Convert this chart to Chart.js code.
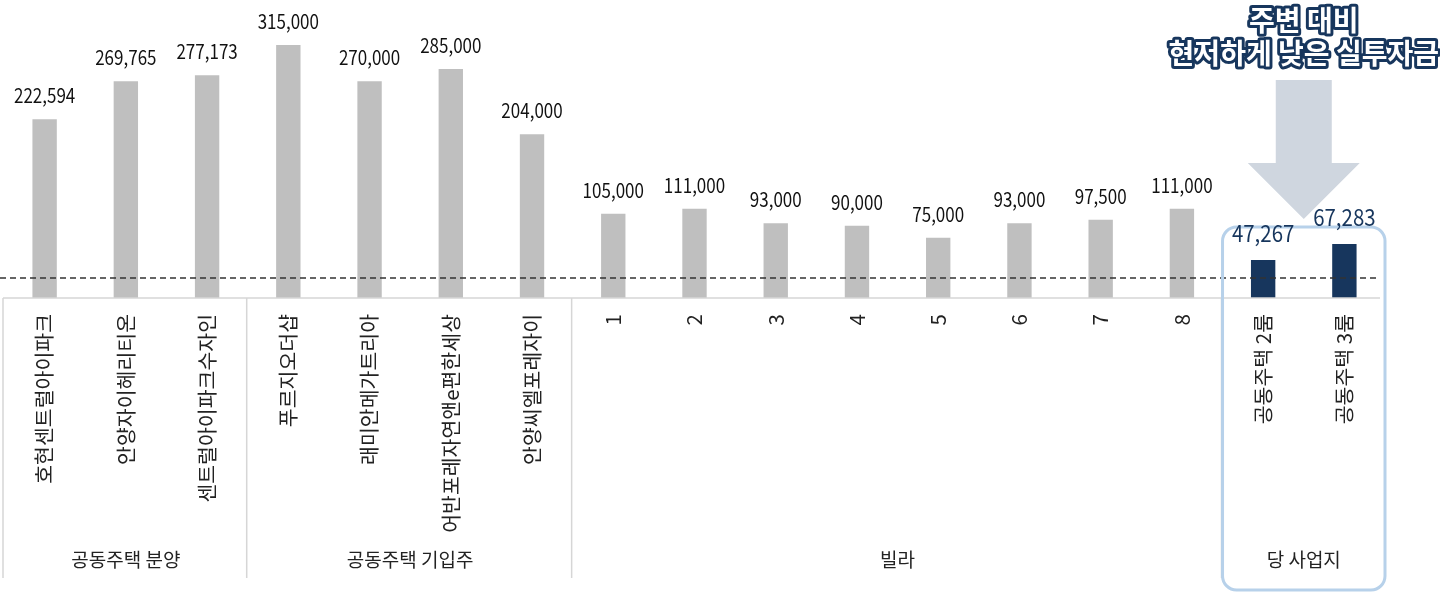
<!DOCTYPE html>
<html>
<head>
<meta charset="utf-8">
<script src="https://cdn.jsdelivr.net/npm/chart.js@4"></script>
<style>
  body { margin: 0; background: #fff; }
</style>
</head>
<body>
<canvas id="bar_chart" width="1440" height="592"></canvas>
<script>
// 단지명 / 실투자금 (천원)
var categories = ['호현센트럴아이파크', '안양자이헤리티온', '센트럴아이파크수자인',
    '푸르지오더샵', '래미안메가트리아', '어반포레자연앤e편한세상', '안양씨엘포레자이',
    '1', '2', '3', '4', '5', '6', '7', '8',
    '공동주택 2룸', '공동주택 3룸'];
var values = [222594, 269765, 277173, 315000, 270000, 285000, 204000,
    105000, 111000, 93000, 90000, 75000, 93000, 97500, 111000,
    47267, 67283];
var groupNames = ['공동주택 분양', '공동주택 기입주', '빌라', '당 사업지'];
var groupSizes = [3, 4, 8, 2];
var referenceValue = 25000;
var calloutLines = ['주변 대비', '현저하게 낮은 실투자금'];

var GRAY = '#bfbfbf';
var NAVY = '#17365d';
var FONT = '"Noto Sans CJK KR", "Noto Sans", sans-serif';

// 당 사업지 막대만 남색
var barColors = [];
var k = 0;
for (var g = 0; g < groupSizes.length; g++) {
    for (var j = 0; j < groupSizes[g]; j++) {
        barColors[k++] = (g == groupSizes.length - 1) ? NAVY : GRAY;
    }
}

function fmt(v) {
    return v.toLocaleString('en-US');
}

var overlay = {
    id: 'overlay',
    afterDatasetsDraw: function (chart) {
        var c = chart.ctx;
        var area = chart.chartArea;
        var xs = chart.scales.x;
        var ys = chart.scales.y;
        var meta = chart.getDatasetMeta(0);
        var step = xs.getPixelForValue(1) - xs.getPixelForValue(0);
        var bottom = chart.height - 14;

        c.save();

        // 기준 점선
        var yRef = ys.getPixelForValue(referenceValue);
        c.strokeStyle = '#333';
        c.lineWidth = 1.5;
        c.setLineDash([6, 4]);
        c.beginPath();
        c.moveTo(0, yRef);
        c.lineTo(area.right - 6, yRef);
        c.stroke();
        c.setLineDash([]);

        // 축선 + 그룹 구분선
        c.strokeStyle = '#d6d6d6';
        c.lineWidth = 1.5;
        c.beginPath();
        c.moveTo(area.left - 1, area.bottom);
        c.lineTo(area.right - 5, area.bottom);
        c.stroke();

        var start = 0;
        var groupEdges = [];
        for (var g = 0; g < groupSizes.length; g++) {
            var x0 = xs.getPixelForValue(start) - step / 2;
            var x1 = xs.getPixelForValue(start + groupSizes[g] - 1) + step / 2;
            groupEdges.push([x0, x1]);
            c.beginPath();
            c.moveTo(x0 - 1, area.bottom);
            c.lineTo(x0 - 1, bottom);
            c.stroke();
            start += groupSizes[g];
        }

        // 그룹명
        c.fillStyle = '#222';
        c.font = '19px ' + FONT;
        c.textAlign = 'center';
        c.textBaseline = 'middle';
        for (var g = 0; g < groupNames.length; g++) {
            c.fillText(groupNames[g], (groupEdges[g][0] + groupEdges[g][1]) / 2, 560);
        }

        // 당 사업지 박스
        var box = groupEdges[groupEdges.length - 1];
        c.strokeStyle = '#b7d1ea';
        c.lineWidth = 3;
        c.beginPath();
        c.roundRect(box[0], 227, box[1] - box[0], chart.height - 2 - 227, 14);
        c.stroke();

        // 값 레이블 (좁은 글꼴 느낌으로 가로 축소)
        c.textBaseline = 'alphabetic';
        for (var i = 0; i < values.length; i++) {
            var bar = meta.data[i];
            var last = barColors[i] == NAVY;
            c.save();
            c.translate(bar.x, bar.y - (last ? 18 : 16));
            c.scale(last ? 0.89 : 0.85, 1);
            c.fillStyle = last ? NAVY : '#111';
            c.font = (last ? '23px ' : '20px ') + FONT;
            c.fillText(fmt(values[i]), 0, 0);
            c.restore();
        }

        // 화살표
        var ax = (box[0] + box[1]) / 2;
        c.fillStyle = '#cfd6df';
        c.beginPath();
        c.moveTo(ax - 28, 80);
        c.lineTo(ax + 28, 80);
        c.lineTo(ax + 28, 163);
        c.lineTo(ax + 56, 163);
        c.lineTo(ax, 219);
        c.lineTo(ax - 56, 163);
        c.lineTo(ax - 28, 163);
        c.closePath();
        c.fill();

        // 강조 문구
        c.font = 'bold 28px ' + FONT;
        c.textAlign = 'center';
        c.textBaseline = 'middle';
        c.lineJoin = 'round';
        c.lineWidth = 6;
        c.strokeStyle = NAVY;
        c.fillStyle = '#fff';
        for (var l = 0; l < calloutLines.length; l++) {
            var ty = 20 + l * 33;
            c.strokeText(calloutLines[l], ax, ty);
            c.fillText(calloutLines[l], ax, ty);
        }

        c.restore();
    }
};

var ctx = document.getElementById('bar_chart');

var myBarChart = new Chart(ctx, {
    type: 'bar',
    data: {
        labels: categories,
        datasets: [
            {
                data: values,
                backgroundColor: barColors,
                borderWidth: 0,
                categoryPercentage: 1.0,
                barPercentage: 0.3
            }
        ]
    },
    options: {
        responsive: false,
        animation: false,
        layout: { padding: { left: 4, right: 55, top: 0, bottom: 0 } },
        plugins: {
            legend: { display: false },
            tooltip: { enabled: false }
        },
        scales: {
            x: {
                grid: { display: false },
                border: { display: false },
                afterFit: function (scale) { scale.height = 294; },
                ticks: {
                    autoSkip: false,
                    minRotation: 90,
                    maxRotation: 90,
                    padding: 8,
                    color: '#222',
                    font: { family: FONT, size: 20.5 }
                }
            },
            y: {
                display: false,
                min: 0,
                max: 371000
            }
        }
    },
    plugins: [overlay]
});
</script>
</body>
</html>
